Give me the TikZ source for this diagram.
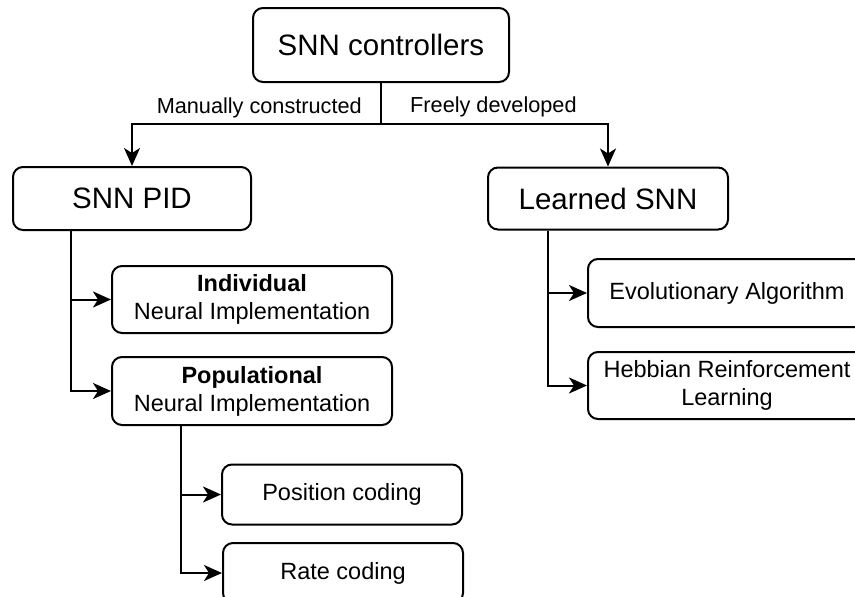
\documentclass[tikz,border=0pt]{standalone}
\usepackage{fontspec}
\setmainfont{Liberation Sans}
\usetikzlibrary{arrows.meta,positioning,calc}
\definecolor{lineblk}{RGB}{0,0,0}
\tikzset{
  rootbox/.style={draw=lineblk, line width=2pt, rounded corners=10pt, fill=white,
              align=center, font=\fontsize{29.5}{34}\selectfont, inner sep=0pt},
  subbox/.style={draw=lineblk, line width=2pt, rounded corners=10pt, fill=white,
              align=center, font=\fontsize{23.5}{28}\selectfont, inner sep=0pt},
  brarr/.style={-{Stealth[length=18pt,width=16pt,inset=5pt]}, lineblk, line width=2pt},
  elab/.style={font=\fontsize{21.7}{26}\selectfont, inner sep=0pt},
}
\begin{document}
\begin{tikzpicture}[x=1pt,y=-1pt]
    \useasboundingbox (0,0) rectangle (855,597);
    \clip (0,0) rectangle (855,597);
    \fill[white] (0,0) rectangle (855,597);
    % top level
    \node[rootbox, minimum width=256pt, minimum height=74pt] (ctrl) at (381,45) {SNN controllers};
    \node[rootbox, minimum width=238pt, minimum height=63pt] (pid) at (132,198.5) {SNN PID};
    \node[rootbox, minimum width=240pt, minimum height=62pt] (lrn) at (608,198.5) {Learned SNN};
    \coordinate (split) at (381,124);
    \draw[brarr] (ctrl.south) -- (split) -| (pid.north);
    \draw[brarr] (split) -| (lrn.north);
    \node[elab, anchor=east] (manu) at ([shift={(-19,-16)}]split) {Manually constructed};
    \node[elab, anchor=west] (free) at ([shift={(29,-17)}]split) {Freely developed};
    % PID branch
    \node[subbox, minimum width=280pt, minimum height=67pt] (indiv) at (252,299.5)
         {\textbf{Individual}\\Neural Implementation};
    \node[subbox, minimum width=280pt, minimum height=68pt] (popul) at (252,391)
         {\textbf{Populational}\\Neural Implementation};
    \draw[brarr] ([xshift=59pt]pid.south west) |- (indiv.west);
    \draw[brarr] ([xshift=59pt]pid.south west) |- (popul.west);
    % coding schemes
    \node[subbox, minimum width=240pt, minimum height=60pt] (pos) at (342,494.5) {Position coding};
    \node[subbox, minimum width=240pt, minimum height=60pt] (rate) at (343,573) {Rate coding};
    \draw[brarr] ([xshift=70pt]popul.south west) |- (pos.west);
    \draw[brarr] ([xshift=70pt]popul.south west) |- (rate.west);
    % learned branch
    \node[subbox, minimum width=278pt, minimum height=68pt] (evol) at (727,293) {Evolutionary Algorithm};
    \node[subbox, minimum width=278pt, minimum height=67pt] (hebb) at (727,385.5)
         {Hebbian Reinforcement\\Learning};
    \draw[brarr] ([xshift=61pt]lrn.south west) |- (evol.west);
    \draw[brarr] ([xshift=61pt]lrn.south west) |- (hebb.west);
\end{tikzpicture}
\end{document}
